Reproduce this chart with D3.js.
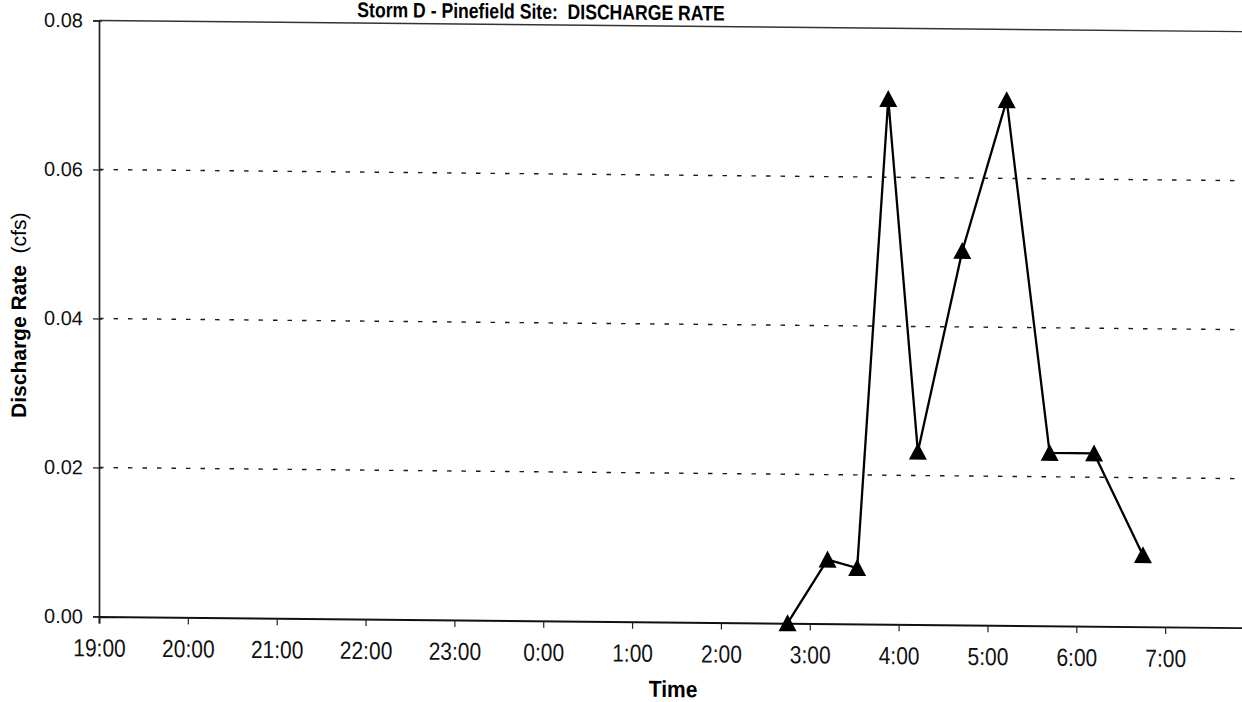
<!DOCTYPE html>
<html>
<head>
<meta charset="utf-8">
<script src="https://cdn.jsdelivr.net/npm/d3@7"></script>
<style>
  html, body { margin: 0; padding: 0; background: #fff; }
  svg { display: block; font-family: "Liberation Sans", Arial, sans-serif; }
  text { white-space: pre; }
</style>
</head>
<body>
<svg id="chart" width="1242" height="702"></svg>
<script>
// Storm D, Pinefield site: measured discharge over the night
const sampleTimes = ["2:45", "3:12", "3:32", "3:53", "4:13", "4:43", "5:13", "5:42", "6:12", "6:45"];
const dischargeCfs = [0.0000, 0.0086, 0.0075, 0.0705, 0.0232, 0.0502, 0.0705, 0.0232, 0.0232, 0.0096];
const yTickValues = [0.00, 0.02, 0.04, 0.06, 0.08];
const titleText = "Storm D - Pinefield Site:  DISCHARGE RATE";
const xAxisTitle = "Time";
const yAxisTitleBold = "Discharge Rate";
const yAxisTitleUnit = "  (cfs)";

// storm window: 19:00 on day one to 8:00 the next morning
const startTime = new Date(2000, 0, 1, 19, 0);
const endTime = new Date(2000, 0, 2, 8, 0);
function toDate(hm) {
  const [h, m] = hm.split(":").map(Number);
  return h >= 19 ? new Date(2000, 0, 1, h, m) : new Date(2000, 0, 2, h, m);
}
const series = sampleTimes.map((t, i) => ({ t: toDate(t), v: dischargeCfs[i] }));

const plotLeft = 99, plotTop = 20.5, plotBottom = 616.5, plotRight = 1254;
const x = d3.scaleTime().domain([startTime, endTime]).range([plotLeft, plotRight]);
const y = d3.scaleLinear().domain([0, 0.08]).range([plotBottom, plotTop]);

const svg = d3.select("#chart");
// the printed page sits with a slight downward slope to the right
const g = svg.append("g")
  .attr("transform", `translate(${plotLeft},0) skewY(0.56) translate(${-plotLeft},0)`);

// dashed horizontal gridlines
g.append("g").selectAll("line")
  .data(yTickValues.filter(v => v > 0 && v < 0.08))
  .join("line")
  .attr("x1", plotLeft).attr("x2", plotRight)
  .attr("y1", d => y(d)).attr("y2", d => y(d))
  .attr("stroke", "#1a1a1a").attr("stroke-width", 1.4)
  .attr("stroke-dasharray", "4.5,10");

// plot frame top edge
g.append("line")
  .attr("x1", plotLeft).attr("x2", plotRight)
  .attr("y1", y(0.08)).attr("y2", y(0.08))
  .attr("stroke", "#333").attr("stroke-width", 1.4);

// y axis
const yAxis = d3.axisLeft(y).tickValues(yTickValues).tickFormat(d3.format(".2f"))
  .tickSize(6).tickPadding(10);
const yG = g.append("g").attr("transform", `translate(${plotLeft},0)`).call(yAxis);
yG.select(".domain").attr("stroke", "#222").attr("stroke-width", 1.7);
yG.selectAll(".tick line").attr("stroke", "#222").attr("stroke-width", 1.2)
  .attr("x2", -6).attr("x1", 3);
yG.selectAll(".tick text").attr("font-size", 20).attr("fill", "#111")
  .attr("font-family", "Liberation Sans, Arial, sans-serif");

// x axis
const xAxis = d3.axisBottom(x).ticks(d3.timeHour.every(1))
  .tickFormat(d3.timeFormat("%-H:%M")).tickSize(7).tickPadding(18);
const xG = g.append("g").attr("transform", `translate(0,${plotBottom})`).call(xAxis);
xG.select(".domain").attr("stroke", "#111").attr("stroke-width", 1.9);
xG.selectAll(".tick line").attr("stroke", "#222").attr("stroke-width", 1.2);
xG.selectAll(".tick text")
  .attr("font-size", 21).attr("fill", "#111")
  .attr("font-family", "Liberation Sans, Arial, sans-serif")
  .attr("y", 0).attr("dy", null)
  .attr("transform", "translate(0,40) scale(1,1.18)");
xG.selectAll(".tick").filter(d => +d === +endTime).select("text").remove();

// discharge line
g.append("path")
  .datum(series)
  .attr("fill", "none").attr("stroke", "#000").attr("stroke-width", 2.3)
  .attr("stroke-linejoin", "miter")
  .attr("d", d3.line().x(d => x(d.t)).y(d => y(d.v)));

// triangle markers
g.append("g").selectAll("path")
  .data(series)
  .join("path")
  .attr("fill", "#000")
  .attr("d", d => {
    const cx = x(d.t), cy = y(d.v);
    return `M${cx},${cy - 9}L${cx + 9},${cy + 8}L${cx - 9},${cy + 8}Z`;
  });

// titles
g.append("text")
  .attr("transform", "translate(541,14.5) scale(1,1.2)")
  .attr("text-anchor", "middle")
  .attr("font-size", 17.6).attr("font-weight", "bold").attr("fill", "#000")
  .text(titleText);

g.append("text")
  .attr("transform", "translate(673,691.5) scale(1,1.1)")
  .attr("text-anchor", "middle")
  .attr("font-size", 21).attr("font-weight", "bold").attr("fill", "#000")
  .text(xAxisTitle);

const yt = g.append("text")
  .attr("transform", "translate(25.5,316) rotate(-90)")
  .attr("text-anchor", "middle")
  .attr("font-size", 21).attr("fill", "#000");
yt.append("tspan").attr("font-weight", "bold").text(yAxisTitleBold);
yt.append("tspan").attr("font-weight", "normal").text(yAxisTitleUnit);
</script>
</body>
</html>
